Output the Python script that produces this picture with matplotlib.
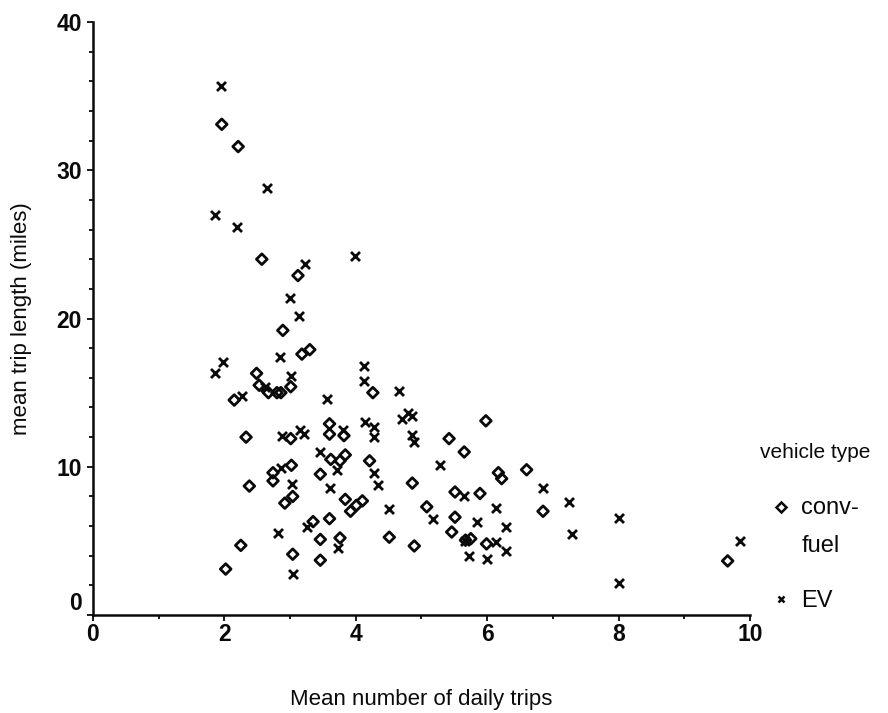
import numpy as np
import matplotlib
matplotlib.use('Agg')
import matplotlib.pyplot as plt
import matplotlib.lines as mlines
from matplotlib.legend_handler import HandlerLine2D

plt.rcParams['font.family'] = ['Liberation Sans', 'DejaVu Sans']

# conventional fuel vehicles: mean daily trips, mean trip length (miles)
conv_trips = [1.96, 2.21, 2.57, 3.12, 2.89, 3.30, 3.18, 2.49, 2.53, 3.01,
              2.67, 2.80, 2.86, 2.15, 3.60, 3.60, 2.33, 3.01, 3.82, 4.26,
              5.98, 5.42, 5.65, 4.21, 3.62, 3.76, 3.84, 3.02, 2.74, 2.74,
              2.38, 3.46, 3.84, 3.92, 4.01, 4.10, 3.04, 2.92, 3.60, 3.35,
              3.46, 3.76, 2.25, 3.04, 3.46, 2.02, 4.86, 6.17, 6.22, 6.60,
              5.51, 5.89, 5.08, 5.51, 5.46, 4.51, 4.89, 5.67, 5.75, 5.99,
              6.85, 9.66]
conv_length = [33.1, 31.6, 24.0, 22.9, 19.2, 17.9, 17.6, 16.3, 15.5, 15.4,
               15.0, 15.0, 15.0, 14.5, 12.9, 12.2, 12.0, 11.9, 12.1, 15.0,
               13.1, 11.9, 11.0, 10.4, 10.5, 10.4, 10.8, 10.1, 9.6, 9.05,
               8.7, 9.5, 7.8, 7.0, 7.4, 7.7, 8.0, 7.55, 6.5, 6.3,
               5.1, 5.2, 4.7, 4.1, 3.7, 3.1, 8.9, 9.6, 9.2, 9.8,
               8.3, 8.2, 7.3, 6.6, 5.6, 5.25, 4.66, 5.05, 5.15, 4.8,
               7.0, 3.65]

# electric vehicles
ev_trips = [1.95, 2.65, 1.86, 2.19, 3.23, 3.00, 3.14, 2.85, 1.98, 1.85,
            3.01, 2.62, 2.27, 3.56, 3.80, 2.87, 3.15, 3.21, 3.99, 4.13,
            4.13, 4.66, 4.80, 4.86, 4.70, 4.14, 4.27, 4.27, 4.86, 4.88,
            3.46, 3.72, 2.86, 3.03, 3.60, 2.82, 3.26, 3.73, 3.04, 5.28,
            4.27, 4.34, 4.51, 5.18, 5.65, 6.14, 5.84, 6.29, 5.66, 6.14,
            6.29, 5.73, 5.99, 6.85, 7.24, 7.29, 8.00, 8.00, 9.85]
ev_length = [35.7, 28.8, 27.0, 26.2, 23.7, 21.4, 20.2, 17.4, 17.05, 16.3,
             16.15, 15.4, 14.8, 14.6, 12.5, 12.1, 12.45, 12.2, 24.2, 16.8,
             15.8, 15.1, 13.6, 13.4, 13.2, 13.0, 12.7, 12.0, 12.15, 11.65,
             11.0, 9.8, 9.95, 8.85, 8.6, 5.55, 5.95, 4.5, 2.8, 10.1,
             9.55, 8.8, 7.15, 6.5, 8.05, 7.2, 6.25, 5.95, 5.0, 4.9,
             4.3, 4.0, 3.75, 8.55, 7.65, 5.45, 6.55, 2.15, 5.0]


class FirstLineHandler(HandlerLine2D):
    """Put the marker next to the first line of a two-line label."""
    def create_artists(self, legend, orig_handle, xdescent, ydescent,
                       width, height, fontsize, trans):
        artists = super().create_artists(legend, orig_handle, xdescent, ydescent,
                                         width, height, fontsize, trans)
        for a in artists:
            a.set_ydata(np.asarray(a.get_ydata()) + 0.85 * fontsize)
        return artists


fig = plt.figure(figsize=(8.88, 7.13), dpi=100)
ax = fig.add_axes([0.1047, 0.1374, 0.7399, 0.8317])

ink = '#0a0a0a'
ax.scatter(conv_trips, conv_length, marker='D', s=30, facecolors='none',
           edgecolors=ink, linewidths=2.0, zorder=3)
ax.scatter(ev_trips, ev_length, marker='x', s=42, color=ink,
           linewidths=2.0, zorder=3)

ax.set_xlim(0, 10)
ax.set_ylim(0, 40)
ax.set_xticks([0, 2, 4, 6, 8, 10])
ax.set_xticks(np.arange(0, 11, 1), minor=True)
ax.set_yticks([0, 10, 20, 30, 40])
ax.set_yticks(np.arange(0, 41, 2), minor=True)

for side in ['top', 'right']:
    ax.spines[side].set_visible(False)
for side in ['left', 'bottom']:
    ax.spines[side].set_linewidth(1.8)
    ax.spines[side].set_color(ink)

ax.tick_params(which='both', direction='out', color=ink, width=1.3)
ax.tick_params(axis='x', which='major', length=4, labelsize=16.5, pad=2, labelcolor=ink)
ax.tick_params(axis='y', which='major', length=4, labelsize=16.5, pad=4, labelcolor=ink)
ax.tick_params(which='minor', length=3)
for lab in ax.get_xticklabels() + ax.get_yticklabels():
    lab.set_fontweight('bold')
# the zero on the y axis sits a little above the x axis
ax.get_yticklabels()[0].set_verticalalignment('bottom')

ax.set_xlabel('Mean number of daily trips', fontsize=16, color=ink)
ax.set_ylabel('mean trip length (miles)', fontsize=16, color=ink)
ax.xaxis.set_label_coords(0.5, -0.125)
ax.yaxis.set_label_coords(-0.093, 0.5)

conv_handle = mlines.Line2D([], [], marker='D', ls='none', mfc='none', mec=ink,
                            ms=5, mew=1.8, label='conv-\nfuel')
ev_handle = mlines.Line2D([], [], marker='x', ls='none', color=ink,
                          ms=5, mew=1.8, label='EV')
leg = fig.legend(handles=[conv_handle, ev_handle], title='vehicle type',
                 loc='upper left', bbox_to_anchor=(0.843, 0.395),
                 frameon=False, fontsize=17, title_fontsize=15,
                 handlelength=0.8, handletextpad=0.45, labelspacing=1.4,
                 borderpad=0, handler_map={conv_handle: FirstLineHandler()})
leg._legend_box.sep = 25
for t in leg.get_texts():
    t.set_linespacing(1.95)
    t.set_color(ink)
leg.get_title().set_color(ink)

fig.savefig('out.png', dpi=100)
